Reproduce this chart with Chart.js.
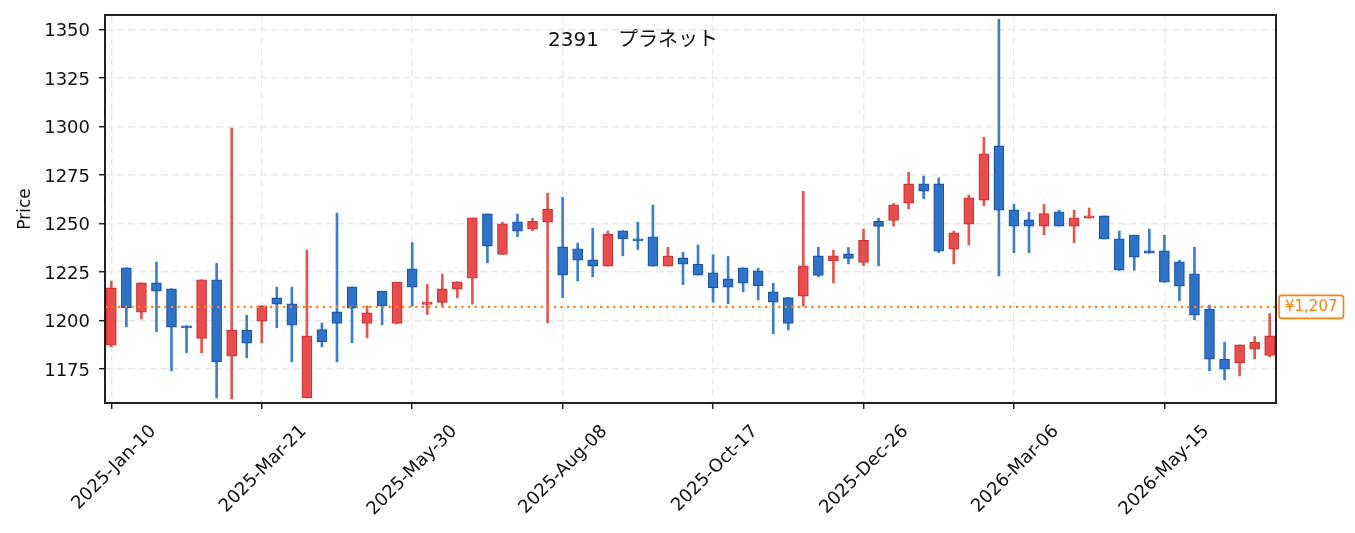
<!DOCTYPE html>
<html>
<head>
<meta charset="utf-8">
<script src="https://cdn.jsdelivr.net/npm/chart.js@4.4.1/dist/chart.umd.min.js"></script>
<style>
  html, body { margin: 0; padding: 0; background: #fff; }
  #wrap { width: 1355px; height: 533px; position: relative; }
</style>
</head>
<body>
<div id="wrap"><canvas id="priceChart"></canvas></div>
<script>
// weekly candles
const openPrices = [
  1187.2, 1227.2, 1204.3, 1219.4, 1216.3, 1197.2, 1190.7, 1221.0, 1181.5, 1195.0,
  1199.6, 1211.7, 1208.6, 1160.0, 1195.3, 1204.4, 1217.3, 1198.4, 1215.1, 1198.4,
  1226.6, 1208.3, 1209.3, 1216.1, 1221.8, 1255.0, 1234.0, 1250.9, 1247.1, 1250.7,
  1238.0, 1237.0, 1231.3, 1228.0, 1246.3, 1242.1, 1243.2, 1228.0, 1232.3, 1229.0,
  1224.6, 1221.5, 1227.2, 1225.6, 1214.8, 1211.8, 1212.5, 1233.3, 1230.9, 1234.4,
  1230.0, 1251.1, 1251.6, 1260.5, 1270.5, 1270.5, 1236.8, 1249.7, 1262.1, 1290.1,
  1257.1, 1251.9, 1248.7, 1256.1, 1248.7, 1252.8, 1254.0, 1242.1, 1244.0, 1235.9,
  1235.9, 1230.2, 1224.1, 1205.8, 1180.0, 1178.1, 1185.2, 1181.9
];
const highPrices = [
  1220.3, 1227.2, 1219.4, 1230.1, 1216.3, 1197.2, 1221.0, 1229.4, 1299.3, 1202.7,
  1207.6, 1217.2, 1217.2, 1236.3, 1198.6, 1255.4, 1217.3, 1207.5, 1215.1, 1219.7,
  1240.2, 1218.7, 1223.9, 1219.9, 1253.0, 1255.0, 1250.7, 1254.9, 1252.6, 1265.7,
  1263.5, 1239.9, 1247.6, 1246.1, 1246.3, 1250.7, 1259.5, 1237.8, 1235.1, 1238.9,
  1234.0, 1233.0, 1227.2, 1227.0, 1219.2, 1211.8, 1266.6, 1237.8, 1236.3, 1237.6,
  1247.1, 1252.8, 1260.4, 1276.5, 1274.5, 1273.5, 1246.1, 1264.7, 1294.6, 1355.4,
  1260.0, 1255.9, 1260.0, 1256.9, 1256.9, 1258.0, 1254.0, 1246.1, 1244.0, 1247.1,
  1244.0, 1231.1, 1237.8, 1207.9, 1188.8, 1187.4, 1191.7, 1203.6
];
const lowPrices = [
  1186.4, 1196.7, 1200.8, 1194.1, 1174.0, 1183.3, 1183.3, 1160.0, 1159.5, 1180.7,
  1188.4, 1196.2, 1178.6, 1160.0, 1186.4, 1178.6, 1188.4, 1191.0, 1197.7, 1198.4,
  1207.4, 1203.1, 1207.5, 1211.7, 1208.4, 1229.7, 1234.0, 1243.2, 1246.3, 1198.8,
  1211.8, 1220.4, 1222.5, 1228.0, 1233.3, 1236.6, 1228.0, 1228.0, 1218.5, 1223.4,
  1209.4, 1208.6, 1214.8, 1210.6, 1193.1, 1195.1, 1207.4, 1222.5, 1219.4, 1229.2,
  1228.2, 1228.2, 1248.7, 1257.6, 1262.8, 1235.0, 1229.2, 1238.9, 1259.2, 1223.0,
  1234.9, 1234.9, 1244.2, 1248.7, 1240.1, 1252.8, 1242.0, 1225.9, 1225.9, 1234.7,
  1219.7, 1210.1, 1200.3, 1174.0, 1169.3, 1171.4, 1180.2, 1181.2
];
const closePrices = [
  1216.8, 1206.5, 1219.4, 1215.1, 1196.5, 1196.2, 1221.0, 1178.6, 1195.0, 1188.3,
  1207.5, 1208.4, 1197.5, 1192.0, 1189.1, 1198.4, 1206.3, 1203.9, 1207.5, 1219.7,
  1217.2, 1209.5, 1216.3, 1219.9, 1253.0, 1238.3, 1249.9, 1246.1, 1251.1, 1257.4,
  1223.4, 1231.1, 1228.0, 1244.4, 1242.0, 1241.1, 1228.0, 1233.3, 1229.0, 1223.4,
  1216.8, 1217.2, 1219.2, 1218.0, 1209.4, 1198.4, 1228.2, 1223.2, 1233.3, 1232.0,
  1241.3, 1248.5, 1259.7, 1270.5, 1266.7, 1235.8, 1245.2, 1263.3, 1286.0, 1256.9,
  1248.7, 1248.7, 1255.2, 1248.7, 1253.0, 1254.0, 1242.0, 1225.9, 1232.7, 1234.7,
  1219.7, 1217.7, 1202.7, 1180.0, 1174.8, 1187.4, 1188.8, 1192.0
];
const refPrice = 1207;
const chartTitle = '2391   プラネット';
const yTicks = [1175, 1200, 1225, 1250, 1275, 1300, 1325, 1350];

// one label per week, starting Friday 2025-Jan-10
const monthNames = ['Jan', 'Feb', 'Mar', 'Apr', 'May', 'Jun', 'Jul', 'Aug', 'Sep', 'Oct', 'Nov', 'Dec'];
const firstWeek = Date.UTC(2025, 0, 10);
const weekLabels = openPrices.map((_, i) => {
  const d = new Date(firstWeek + i * 7 * 86400000);
  return d.getUTCFullYear() + '-' + monthNames[d.getUTCMonth()] + '-' + String(d.getUTCDate()).padStart(2, '0');
});

const fontFamily = '"DejaVu Sans", "Noto Sans CJK JP", sans-serif';
const upFill = '#e84c4c', upEdge = '#cc3434', upWick = '#e8554f';
const downFill = '#2e73c7', downEdge = '#1d55a5', downWick = '#3a7fcd';
const isUp = i => closePrices[i] >= openPrices[i];

const bodyData = openPrices.map((o, i) => ({ x: i, y: [o, closePrices[i]] }));
const wickData = lowPrices.map((l, i) => ({ x: i, y: [l, highPrices[i]] }));

// title, frame and the reference price line are drawn here
const extrasPlugin = {
  id: 'extras',
  afterDatasetsDraw(chart) {
    const { ctx, chartArea: a, scales } = chart;
    const py = scales.y.getPixelForValue(refPrice);
    ctx.save();
    ctx.strokeStyle = '#ff7f0e';
    ctx.lineWidth = 2.2;
    ctx.setLineDash([2.2, 4.4]);
    ctx.beginPath();
    ctx.moveTo(a.left, py);
    ctx.lineTo(a.right, py);
    ctx.stroke();
    ctx.restore();
  },
  afterDraw(chart) {
    const { ctx, chartArea: a, scales } = chart;
    ctx.save();
    ctx.strokeStyle = '#222';
    ctx.lineWidth = 2;
    ctx.strokeRect(a.left, a.top, a.right - a.left, a.bottom - a.top);

    ctx.fillStyle = '#111';
    ctx.font = '20px ' + fontFamily;
    ctx.textAlign = 'center';
    ctx.textBaseline = 'middle';
    ctx.fillText(chartTitle, 633, 41);

    // price tag on the right
    const py = scales.y.getPixelForValue(refPrice);
    const txt = '¥' + refPrice.toLocaleString('en-US');
    ctx.font = '15px ' + fontFamily;
    const w = ctx.measureText(txt).width + 12;
    const x0 = a.right + 3, h = 23;
    ctx.beginPath();
    ctx.roundRect(x0, py - h / 2, w, h, 3);
    ctx.fillStyle = '#fff';
    ctx.fill();
    ctx.strokeStyle = '#ff7f0e';
    ctx.lineWidth = 1.6;
    ctx.stroke();
    ctx.fillStyle = '#ff7f0e';
    ctx.textAlign = 'left';
    ctx.fillText(txt, x0 + 6, py + 0.5);
    ctx.restore();
  }
};

const gridStyle = {
  color: '#e9e9e9', lineWidth: 1.4, tickLength: 6,
  tickColor: '#222', tickWidth: 1.5, tickBorderDash: []
};
const borderStyle = { color: '#222', width: 2, dash: [7, 4] };

new Chart(document.getElementById('priceChart'), {
  type: 'bar',
  data: {
    datasets: [
      {
        label: 'body', data: bodyData, order: 1, grouped: false,
        barThickness: 10, borderWidth: 1.2, borderSkipped: false,
        backgroundColor: bodyData.map((_, i) => isUp(i) ? upFill : downFill),
        borderColor: bodyData.map((_, i) => isUp(i) ? upEdge : downEdge)
      },
      {
        label: 'wick', data: wickData, order: 2, grouped: false,
        barThickness: 2, borderWidth: 0,
        backgroundColor: wickData.map((_, i) => isUp(i) ? upWick : downWick)
      }
    ]
  },
  options: {
    responsive: true,
    maintainAspectRatio: false,
    animation: false,
    layout: { padding: { top: 15, right: 79, left: 0, bottom: 0 } },
    plugins: { legend: { display: false }, tooltip: { enabled: false } },
    scales: {
      x: {
        type: 'linear', min: -0.42, max: 77.42, offset: false,
        afterFit: s => { s.height = 130; s.paddingLeft = 0; s.paddingRight = 0; },
        grid: Object.assign({ offset: false }, gridStyle),
        border: borderStyle,
        ticks: {
          stepSize: 10, includeBounds: false, autoSkip: false,
          minRotation: 45, maxRotation: 45, padding: 12, labelOffset: 42,
          color: '#111', font: { family: fontFamily, size: 18 },
          callback: v => weekLabels[v] ?? null
        }
      },
      y: {
        min: 1157.4, max: 1357.6,
        afterFit: s => { s.width = 105; s.paddingTop = 0; s.paddingBottom = 0; },
        afterBuildTicks: s => { s.ticks = yTicks.map(v => ({ value: v })); },
        grid: gridStyle,
        border: borderStyle,
        ticks: {
          padding: 9, labelOffset: 2, color: '#111', font: { family: fontFamily, size: 18 },
          callback: v => String(v)
        },
        title: {
          display: true, text: 'Price', color: '#111',
          font: { family: fontFamily, size: 17 }, padding: { top: 15, bottom: 0 }
        }
      }
    }
  },
  plugins: [extrasPlugin]
});
</script>
</body>
</html>
